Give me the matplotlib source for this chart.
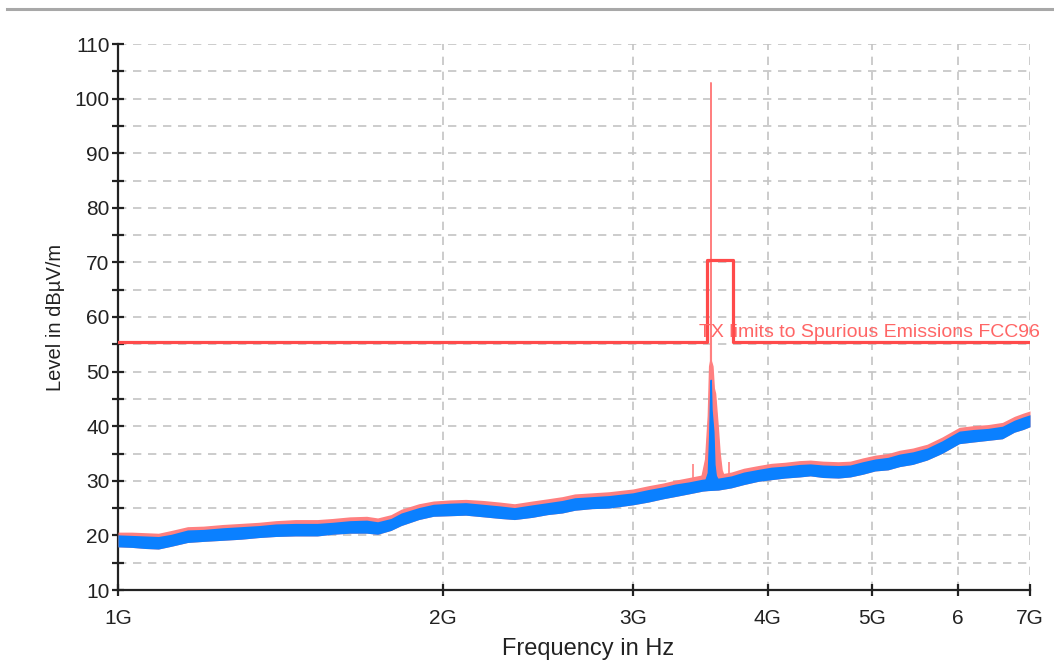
from __future__ import annotations

import matplotlib

matplotlib.use("Agg")

import matplotlib.pyplot as plt
from matplotlib.lines import Line2D
from matplotlib.ticker import FixedLocator, MultipleLocator, NullLocator

# frequency grid of the background noise band (GHz)
FREQ_GHZ = [1.00, 1.03, 1.06, 1.09, 1.12, 1.16, 1.20, 1.25, 1.30, 1.35, 1.40, 1.46, 1.53, 1.58, 1.64, 1.70,
            1.74, 1.79, 1.83, 1.90, 1.96, 2.03, 2.10, 2.18, 2.26, 2.33, 2.42, 2.50, 2.58, 2.65, 2.75, 2.85,
            3.00, 3.10, 3.20, 3.28, 3.38, 3.48, 3.52, 3.60, 3.70, 3.80, 3.92, 4.03, 4.15, 4.28, 4.38, 4.50,
            4.65, 4.77, 4.90, 5.03, 5.17, 5.30, 5.45, 5.62, 5.80, 6.02, 6.20, 6.40, 6.60, 6.77, 6.90, 7.00]
AVG_LO = [17.9, 17.8, 17.6, 17.5, 18.0, 18.7, 18.9, 19.1, 19.3, 19.6, 19.8, 19.9, 19.9, 20.2, 20.4, 20.4,
          20.2, 20.9, 21.8, 22.9, 23.5, 23.6, 23.7, 23.4, 23.1, 22.9, 23.3, 23.8, 24.1, 24.6, 24.9, 25.0,
          25.6, 26.1, 26.7, 27.1, 27.6, 28.1, 28.2, 28.3, 28.7, 29.3, 29.9, 30.2, 30.5, 30.7, 30.9, 30.6,
          30.5, 30.7, 31.2, 31.8, 32.0, 32.6, 33.0, 33.8, 35.0, 36.8, 37.1, 37.4, 37.7, 38.9, 39.4, 39.9]
AVG_HI = [20.1, 20.0, 19.9, 19.8, 20.2, 21.0, 21.1, 21.4, 21.6, 21.8, 22.1, 22.2, 22.2, 22.4, 22.7, 22.8,
          22.5, 23.1, 24.1, 25.1, 25.7, 25.9, 26.0, 25.7, 25.4, 25.1, 25.6, 26.0, 26.4, 26.9, 27.1, 27.3,
          27.8, 28.4, 28.9, 29.4, 29.8, 30.3, 30.4, 30.5, 30.9, 31.6, 32.1, 32.5, 32.7, 33.0, 33.1, 32.9,
          32.8, 32.9, 33.5, 34.0, 34.3, 34.9, 35.3, 36.0, 37.3, 39.1, 39.4, 39.6, 40.0, 41.1, 41.7, 42.1]
PEAK_HI = [20.6, 20.6, 20.5, 20.4, 20.9, 21.6, 21.7, 22.0, 22.2, 22.4, 22.7, 22.9, 22.9, 23.1, 23.4, 23.5,
           23.2, 23.8, 24.8, 25.8, 26.3, 26.5, 26.6, 26.4, 26.1, 25.8, 26.3, 26.7, 27.1, 27.6, 27.8, 28.0,
           28.5, 29.1, 29.6, 30.1, 30.6, 31.1, 31.2, 31.2, 31.6, 32.3, 32.8, 33.2, 33.4, 33.7, 33.8, 33.6,
           33.5, 33.6, 34.2, 34.7, 35.0, 35.6, 36.0, 36.7, 38.0, 39.8, 40.1, 40.3, 40.7, 41.8, 42.4, 42.8]

# carrier around 3.54 GHz
PEAK_SPIKE_F = [3.47, 3.50, 3.52, 3.53, 3.537, 3.540, 3.543, 3.555, 3.565, 3.575, 3.585, 3.595, 3.61, 3.625, 3.64]
PEAK_SPIKE_V = [30.5, 34.0, 42.0, 51.0, 52.0, 103.0, 52.0, 51.0, 47.0, 46.0, 43.0, 40.0, 35.0, 32.0, 31.0]
AVG_SPIKE_F = [3.50, 3.52, 3.53, 3.537, 3.542, 3.548, 3.555, 3.562, 3.570, 3.58, 3.60]
AVG_SPIKE_V = [30.0, 31.5, 38.0, 45.0, 48.5, 43.0, 41.0, 39.0, 33.0, 31.0, 30.0]
PEAK_SPUR_F = [3.41, 3.685]
PEAK_SPUR_V = [33.0, 33.5]

LIMIT_F = [1.0, 3.513, 3.513, 3.713, 3.713, 7.0]
LIMIT_V = [55.4, 55.4, 70.4, 70.4, 55.4, 55.4]
LIMIT_NAME = "TX limits to Spurious Emissions FCC96"

X_TICKS_GHZ = [1, 2, 3, 4, 5, 6, 7]
X_TICK_LABELS = ["1G", "2G", "3G", "4G", "5G", "6", "7G"]

PEAK_COLOR = "#ff8080"
AVG_COLOR = "#0a80ff"
LIMIT_COLOR = "#ff4a4a"


def hz(values: list[float]) -> list[float]:
    return [v * 1e9 for v in values]


def main() -> None:
    plt.rcParams["font.family"] = ["Liberation Sans", "DejaVu Sans"]
    fig = plt.figure(figsize=(10.54, 6.62), dpi=100)
    ax = fig.add_axes([118 / 1054, 1 - 590 / 662, 912 / 1054, 546 / 662])

    # window frame line at the very top
    fig.add_artist(Line2D([0.007, 1.0], [0.986, 0.986], color="#a8a8a8", lw=2.2))

    f = hz(FREQ_GHZ)
    ax.fill_between(f, AVG_LO, PEAK_HI, color=PEAK_COLOR, lw=0, zorder=3)
    ax.fill_between(hz(PEAK_SPIKE_F), 29.0, PEAK_SPIKE_V, color=PEAK_COLOR, lw=1.0, edgecolor=PEAK_COLOR, zorder=3)
    ax.vlines(hz(PEAK_SPUR_F), 29.0, PEAK_SPUR_V, color=PEAK_COLOR, lw=1.2, zorder=3)
    ax.fill_between(f, AVG_LO, AVG_HI, color=AVG_COLOR, lw=0, zorder=4)
    ax.fill_between(hz(AVG_SPIKE_F), 29.0, AVG_SPIKE_V, color=AVG_COLOR, lw=1.0, edgecolor=AVG_COLOR, zorder=4)

    ax.plot(hz(LIMIT_F), LIMIT_V, color=LIMIT_COLOR, lw=2.3, zorder=5)
    ax.annotate(LIMIT_NAME, xy=(7e9, LIMIT_V[-1]), xytext=(10, 5), textcoords="offset pixels",
                ha="right", va="baseline", color="#ff6666", fontsize=14, zorder=6,
                annotation_clip=False)

    ax.set_xscale("log")
    ax.set_xlim(1e9, 7e9)
    ax.set_ylim(10, 110)
    ax.xaxis.set_major_locator(FixedLocator(hz(X_TICKS_GHZ)))
    ax.set_xticklabels(X_TICK_LABELS)
    ax.xaxis.set_minor_locator(NullLocator())
    ax.yaxis.set_major_locator(MultipleLocator(10))
    ax.yaxis.set_minor_locator(MultipleLocator(5))

    ax.grid(True, which="both", color="#c4c4c4", lw=1.2, linestyle=(0, (5, 4)), zorder=1)
    ax.set_axisbelow(True)
    for side in ("top", "right"):
        ax.spines[side].set_visible(False)
    for side in ("left", "bottom"):
        ax.spines[side].set_linewidth(1.6)
        ax.spines[side].set_color("#222222")

    ax.tick_params(axis="both", which="both", direction="inout", length=8, width=1.6, color="#222222",
                   labelsize=15, labelcolor="#222222")
    ax.tick_params(axis="y", which="major", pad=2)
    ax.tick_params(axis="x", which="major", pad=10)

    ax.set_xlabel("Frequency in Hz", fontsize=17, color="#222222")
    ax.xaxis.set_label_coords(0.515, -0.088)
    ax.set_ylabel("Level in dBµV/m", fontsize=14.5, color="#222222")
    ax.yaxis.set_label_coords(-0.058, 0.5)

    fig.savefig("out.png", dpi=100, facecolor="white")
    plt.close(fig)


if __name__ == "__main__":
    main()
